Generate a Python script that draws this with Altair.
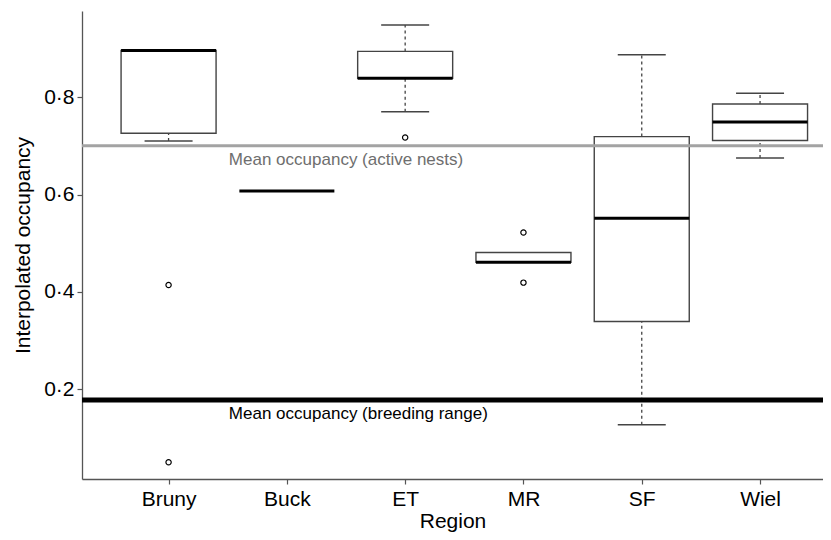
import altair as alt
import pandas as pd

# ---- data ----
regions = ["Bruny", "Buck", "ET", "MR", "SF", "Wiel"]
q1 = [0.726, 0.607, 0.839, 0.461, 0.339, 0.711]
q3 = [0.896, 0.607, 0.894, 0.481, 0.719, 0.786]
median = [0.896, 0.607, 0.839, 0.461, 0.551, 0.749]
whisk_lo = [0.710, 0.607, 0.770, 0.461, 0.127, 0.675]
whisk_hi = [0.896, 0.607, 0.948, 0.481, 0.887, 0.808]

outlier_region = ["Bruny", "Bruny", "ET", "MR", "MR"]
outlier_value = [0.414, 0.050, 0.717, 0.522, 0.419]

ref_labels = ["Mean occupancy (active nests)", "Mean occupancy (breeding range)"]
ref_values = [0.700, 0.178]
ref_colors = ["#a3a3a3", "#000000"]
ref_widths = [3, 5]
ref_text_colors = ["#6e6e6e", "#000000"]

y_ticks = [0.2, 0.4, 0.6, 0.8]

# ---- tables ----
stats = pd.DataFrame({"region": regions, "q1": q1, "q3": q3, "median": median,
                      "lo": whisk_lo, "hi": whisk_hi})
boxes = stats[stats["q3"] > stats["q1"]]
lo_wh = stats[stats["lo"] < stats["q1"]]
hi_wh = stats[stats["hi"] > stats["q3"]]
outliers = pd.DataFrame({"region": outlier_region, "value": outlier_value})
refs = pd.DataFrame({"label": ref_labels, "value": ref_values})
anchor = pd.DataFrame({"region": ["Buck"] * 2, "label": ref_labels, "value": ref_values})

FONT = "Liberation Sans"

xscale = alt.Scale(type="point", domain=regions, padding=0.632, align=0.579)
yscale = alt.Scale(domain=[0.0156, 0.977], nice=False, zero=False)

X = alt.X("region:N", scale=xscale, title="Region",
          axis=alt.Axis(labelAngle=0, labelFontSize=21, titleFontSize=21,
                        labelPadding=4, titlePadding=1, tickSize=5,
                        labelColor="#000000", titleColor="#000000",
                        titleFontWeight="normal", domainColor="#555555",
                        tickColor="#555555", domainWidth=1.3, tickWidth=1.2))

def Y(field):
    return alt.Y(field, scale=yscale, title="Interpolated occupancy",
                 axis=alt.Axis(values=y_ticks, labelFontSize=21, titleFontSize=21,
                               labelExpr="replace(format(datum.value, '.1f'), '.', '·')",
                               labelPadding=3, titlePadding=10, tickSize=5,
                               labelColor="#000000", titleColor="#000000",
                               titleFontWeight="normal", domainColor="#555555",
                               tickColor="#555555", domainWidth=1.3, tickWidth=1.2))

whisk_lo_rule = alt.Chart(lo_wh).mark_rule(color="#444444", strokeWidth=1.3, opacity=1,
                                           strokeDash=[3, 3]).encode(
    x=X, y=Y("lo:Q"), y2="q1:Q")
whisk_hi_rule = alt.Chart(hi_wh).mark_rule(color="#444444", strokeWidth=1.3, opacity=1,
                                           strokeDash=[3, 3]).encode(
    x=X, y=Y("q3:Q"), y2="hi:Q")
cap_lo = alt.Chart(lo_wh).mark_tick(color="#444444", size=48, thickness=1.5,
                                    opacity=1).encode(
    x=X, y=Y("lo:Q"))
cap_hi = alt.Chart(hi_wh).mark_tick(color="#444444", size=48, thickness=1.5,
                                    opacity=1).encode(
    x=X, y=Y("hi:Q"))
box = alt.Chart(boxes).mark_bar(size=95, fill="#ffffff", stroke="#444444",
                                strokeWidth=1.4, opacity=1).encode(
    x=X, y=Y("q1:Q"), y2="q3:Q")
med = alt.Chart(stats).mark_tick(color="#000000", size=95, thickness=3,
                                 opacity=1).encode(
    x=X, y=Y("median:Q"))
pts = alt.Chart(outliers).mark_point(shape="circle", size=28, filled=False,
                                     color="#000000", strokeWidth=1.2,
                                     opacity=1).encode(
    x=X, y=Y("value:Q"))

ref_rules = alt.Chart(refs).mark_rule(opacity=1).encode(
    y=Y("value:Q"),
    color=alt.Color("label:N", scale=alt.Scale(domain=ref_labels, range=ref_colors),
                    legend=None),
    strokeWidth=alt.StrokeWidth("label:N",
                                scale=alt.Scale(domain=ref_labels, range=ref_widths),
                                legend=None))

ref_text = alt.Chart(anchor).mark_text(align="left", baseline="middle", dx=-58, dy=14.5,
                                       fontSize=17, font=FONT).encode(
    x=X, y=Y("value:Q"), text="label:N",
    color=alt.Color("label:N", scale=alt.Scale(domain=ref_labels, range=ref_text_colors),
                    legend=None))

chart = alt.layer(
    whisk_lo_rule, whisk_hi_rule, cap_lo, cap_hi, box, med, pts, ref_rules, ref_text
).resolve_scale(color="independent").properties(
    width=741, height=468,
    autosize=alt.AutoSizeParams(type="none"),
    padding={"left": 74, "top": 3, "right": 0, "bottom": 53},
).configure_view(stroke=None).configure_axis(grid=False, labelFont=FONT, titleFont=FONT
).configure_text(font=FONT)

chart.save("out.html", embed_options={"renderer": "svg", "actions": False})
